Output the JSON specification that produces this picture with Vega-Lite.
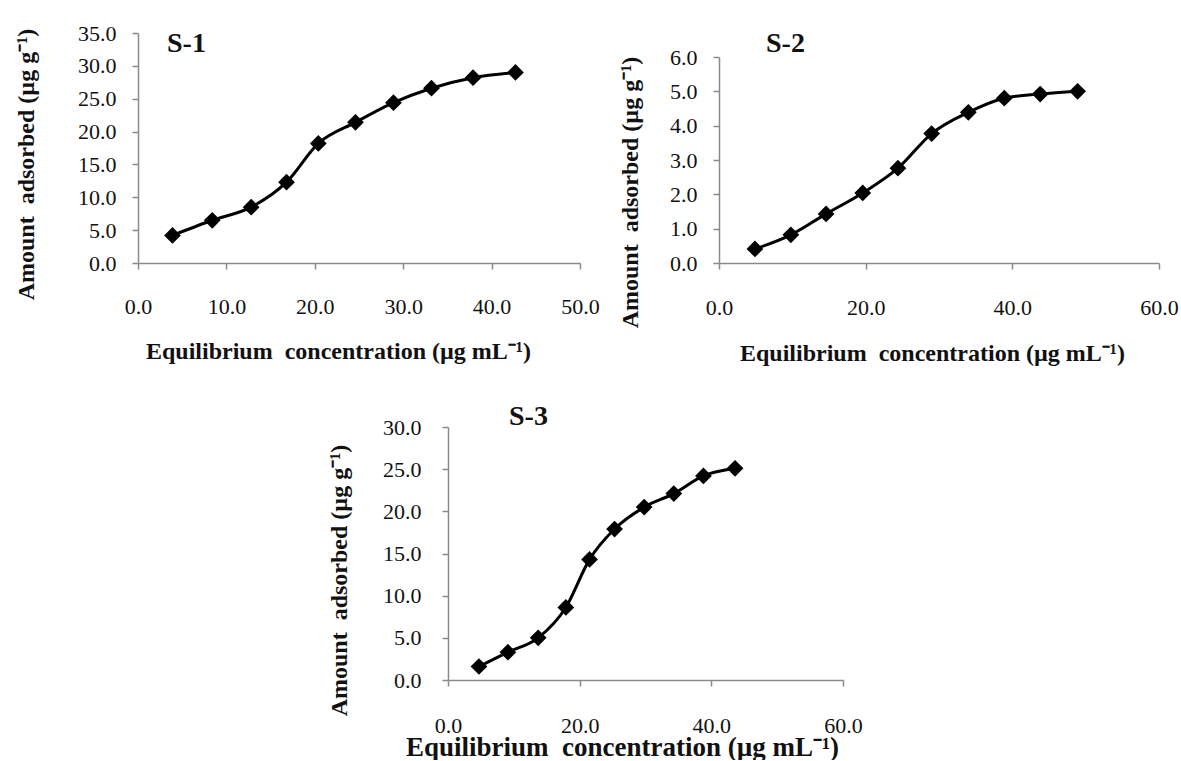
{
  "$schema": "https://vega.github.io/schema/vega-lite/v6.json",
  "background": "white",
  "padding": {"left": 13, "top": 22, "right": 0, "bottom": 0},
  "bounds": "flush",
  "align": "none",
  "columns": 2,
  "spacing": {"row": 164, "column": 139},
  "config": {
    "view": {"stroke": null},
    "font": "Liberation Serif",
    "axis": {
      "grid": false,
      "domainColor": "#8a8a8a",
      "domainWidth": 1.5,
      "tickColor": "#8a8a8a",
      "tickWidth": 1.5,
      "tickSize": 6,
      "labelFont": "Liberation Serif",
      "labelFontSize": 22,
      "labelColor": "#111111",
      "labelOverlap": false,
      "labelFlush": false,
      "titleFont": "Liberation Serif",
      "titleFontWeight": "bold",
      "titleColor": "#111111",
      "titleFontSize": 24
    },
    "axisX": {"labelBaseline": "middle", "titleBaseline": "middle"},
    "axisY": {"titleBaseline": "middle", "titleFontSize": 24},
    "title": {"font": "Liberation Serif", "fontSize": 28, "fontWeight": "bold", "color": "#111111", "anchor": "start", "frame": "group"}
  },
  "datasets": {
    "s1": [
      {"c": 3.9, "q": 4.2}, {"c": 8.4, "q": 6.5}, {"c": 12.8, "q": 8.5}, {"c": 16.8, "q": 12.3},
      {"c": 20.4, "q": 18.2}, {"c": 24.6, "q": 21.4}, {"c": 28.9, "q": 24.4}, {"c": 33.2, "q": 26.6},
      {"c": 37.9, "q": 28.2}, {"c": 42.7, "q": 29.0}
    ],
    "s2": [
      {"c": 4.9, "q": 0.41}, {"c": 9.8, "q": 0.82}, {"c": 14.6, "q": 1.43}, {"c": 19.6, "q": 2.04},
      {"c": 24.4, "q": 2.76}, {"c": 29.0, "q": 3.77}, {"c": 34.0, "q": 4.39}, {"c": 38.9, "q": 4.80},
      {"c": 43.8, "q": 4.92}, {"c": 48.9, "q": 5.0}
    ],
    "s3": [
      {"c": 4.7, "q": 1.6}, {"c": 9.1, "q": 3.3}, {"c": 13.7, "q": 5.0}, {"c": 17.9, "q": 8.6},
      {"c": 21.5, "q": 14.3}, {"c": 25.3, "q": 17.9}, {"c": 29.8, "q": 20.5}, {"c": 34.3, "q": 22.1},
      {"c": 38.8, "q": 24.2}, {"c": 43.6, "q": 25.1}
    ]
  },
  "concat": [
    {
      "width": 442,
      "height": 230,
      "title": {"text": "S-1", "dx": 29, "offset": -36},
      "data": {"name": "s1"},
      "encoding": {
        "x": {"field": "c", "type": "quantitative", "scale": {"domain": [0, 50], "nice": false},
          "axis": {"values": [0, 10, 20, 30, 40, 50], "format": ".1f", "labelPadding": 37,
            "title": "Equilibrium\u00a0 concentration (µg mL⁻¹)", "titleX": 200, "titleY": 88}},
        "y": {"field": "q", "type": "quantitative", "scale": {"domain": [0, 35], "nice": false},
          "axis": {"values": [0, 5, 10, 15, 20, 25, 30, 35], "format": ".1f", "labelPadding": 16,
            "title": "Amount\u00a0 adsorbed (µg g⁻¹)", "titleX": -112, "titleY": 131}}
      },
      "layer": [
        {"mark": {"type": "line", "interpolate": "monotone", "color": "black", "strokeWidth": 3}},
        {"mark": {"type": "point", "shape": "diamond", "filled": true, "color": "black", "size": 280, "opacity": 1}}
      ]
    },
    {
      "width": 440,
      "height": 230,
      "title": {"text": "S-2", "dx": 47, "offset": -25},
      "data": {"name": "s2"},
      "encoding": {
        "x": {"field": "c", "type": "quantitative", "scale": {"domain": [0, 60], "nice": false},
          "axis": {"values": [0, 20, 40, 60], "format": ".1f", "labelPadding": 38,
            "title": "Equilibrium\u00a0 concentration (µg mL⁻¹)", "titleX": 213, "titleY": 90}},
        "y": {"field": "q", "type": "quantitative", "scale": {"domain": [0, 6], "nice": false, "range": [230, 24]},
          "axis": {"values": [0, 1, 2, 3, 4, 5, 6], "format": ".1f", "labelPadding": 16,
            "title": "Amount\u00a0 adsorbed (µg g⁻¹)", "titleX": -89, "titleY": 159}}
      },
      "layer": [
        {"mark": {"type": "line", "interpolate": "monotone", "color": "black", "strokeWidth": 3}},
        {"mark": {"type": "point", "shape": "diamond", "filled": true, "color": "black", "size": 280, "opacity": 1}}
      ]
    },
    {
      "width": 442,
      "height": 253,
      "title": {"text": "S-3", "dx": 371, "offset": -15},
      "data": {"name": "s3"},
      "encoding": {
        "x": {"field": "c", "type": "quantitative", "scale": {"domain": [0, 60], "nice": false, "range": [310, 705]},
          "axis": {"values": [0, 20, 40, 60], "format": ".1f", "labelPadding": 39,
            "title": "Equilibrium\u00a0 concentration (µg mL⁻¹)", "titleFontSize": 27, "titleX": 484, "titleY": 67}},
        "y": {"field": "q", "type": "quantitative", "scale": {"domain": [0, 30], "nice": false},
          "axis": {"values": [0, 5, 10, 15, 20, 25, 30], "format": ".1f", "labelPadding": 21, "offset": -310,
            "title": "Amount\u00a0 adsorbed (µg g⁻¹)", "titleX": -109, "titleY": 153}}
      },
      "layer": [
        {"mark": {"type": "line", "interpolate": "monotone", "color": "black", "strokeWidth": 3}},
        {"mark": {"type": "point", "shape": "diamond", "filled": true, "color": "black", "size": 280, "opacity": 1}}
      ]
    }
  ]
}
